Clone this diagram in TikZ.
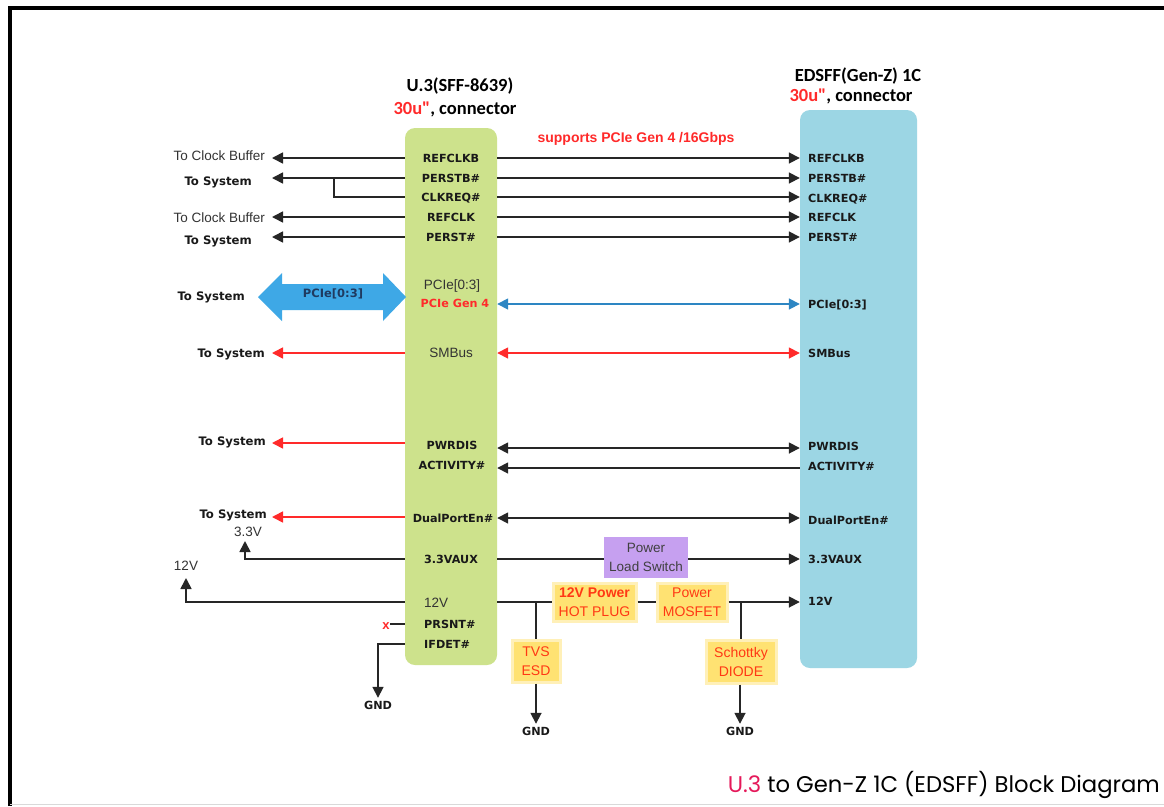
\documentclass[tikz,border=0pt]{standalone}
\usepackage{fontspec}
\setmainfont{Liberation Sans}
\newfontfamily\dvs{DejaVu Sans}
\newfontfamily\cbr{Carlito}
\newfontfamily\pop{Poppins}
\usetikzlibrary{arrows.meta}
\definecolor{gboxc}{HTML}{CDE28C}
\definecolor{bboxc}{HTML}{9CD6E4}
\definecolor{pboxc}{HTML}{C6A0F0}
\definecolor{yboxc}{HTML}{FFE272}
\definecolor{sred}{HTML}{FF2A2A}
\definecolor{ored}{HTML}{FF3814}
\definecolor{sblue}{HTML}{2D86C3}
\definecolor{fatblue}{HTML}{3EA8E6}
\definecolor{tred}{HTML}{E5195A}
\definecolor{navy}{HTML}{1F3A60}
\begin{document}
\begin{tikzpicture}[x=1pt,y=-1pt,
  >={Triangle[length=11pt,width=11pt]},
  sig/.style={line width=1.7pt,draw=black!85},
  redsig/.style={line width=1.7pt,draw=sred,color=sred},
  bluesig/.style={line width=1.7pt,draw=sblue,color=sblue},
  bl/.style={font=\dvs\bfseries\fontsize{11.2}{13}\selectfont,inner sep=0pt,text height=8pt,text depth=0pt,text=black!90},
  rg/.style={font=\fontsize{13.5}{16}\selectfont,inner sep=0pt,text height=9.5pt,text depth=0pt,text=black!80},
  ts/.style={font=\dvs\bfseries\fontsize{11.7}{13}\selectfont,inner sep=0pt,text height=8.5pt,text depth=0pt,text=black!90},
  hdr/.style={font=\cbr\bfseries\fontsize{18.5}{22}\selectfont,inner sep=0pt},
  ybox/.style={fill=yboxc,draw=yboxc!50,line width=3pt,align=center,text=ored,inner sep=0pt,font=\fontsize{14}{19}\selectfont},
  pbox/.style={fill=pboxc,draw=none,align=center,text=black!75,inner sep=0pt,font=\fontsize{13.5}{19}\selectfont,minimum width=84pt,minimum height=41pt},
  conn/.style={rounded corners=10pt,draw=none}
]
\useasboundingbox (0,0) rectangle (1164,806);
\fill[white] (0,0) rectangle (1164,806);
% frame
\draw[line width=4pt] (10,806) -- (10,8) -- (1164,8);
\draw[black!15,line width=1pt] (10,804) -- (1164,804);

% connectors (boxes)
\node[conn,fill=gboxc,minimum width=92pt,minimum height=537pt] (u3) at (451,396.5) {};
\node[conn,fill=bboxc,minimum width=117pt,minimum height=558pt] (ed) at (858.5,389) {};

% headers
\node[hdr] (h1) at (460,86) {U.3(SFF-8639)};
\node[hdr] (h2) at (455,109) {\textcolor{sred}{30u"}, connector};
\node[hdr] (h3) at (858,76) {EDSFF(Gen-Z) 1C};
\node[hdr] (h4) at (851,96) {\textcolor{sred}{30u"}, connector};
\node[font=\bfseries\fontsize{14}{16}\selectfont,text=sred,inner sep=0pt] (sup) at (636,139) {supports PCIe Gen 4 /16Gbps};

% U.3 labels
\node[bl] (g1) at (451,158) {REFCLKB};
\node[bl] (g2) at (451,178) {PERSTB\#};
\node[bl] (g3) at (451,197) {CLKREQ\#};
\node[bl] (g4) at (451,217) {REFCLK};
\node[bl] (g5) at (451,237) {PERST\#};
\node[rg] (g6) at (452,285) {PCIe[0:3]};
\node[bl,text=sred] (g7) at (455,303) {PCIe Gen 4};
\node[rg] (g8) at (451,353) {SMBus};
\node[bl] (g9) at (452,445) {PWRDIS};
\node[bl] (g10) at (452,465) {ACTIVITY\#};
\node[bl] (g11) at (453,518) {DualPortEn\#};
\node[bl] (g12) at (451,559) {3.3VAUX};
\node[rg,anchor=west] (g13) at (424,603) {12V};
\node[bl,anchor=west] (g14) at (424,624) {PRSNT\#};
\node[bl,anchor=west] (g15) at (424,644) {IFDET\#};

% EDSFF labels
\node[bl,anchor=west] (e1) at (808,158) {REFCLKB};
\node[bl,anchor=west] (e2) at (808,178) {PERSTB\#};
\node[bl,anchor=west] (e3) at (808,198) {CLKREQ\#};
\node[bl,anchor=west] (e4) at (808,217) {REFCLK};
\node[bl,anchor=west] (e5) at (808,237) {PERST\#};
\node[bl,anchor=west] (e6) at (808,304) {PCIe[0:3]};
\node[bl,anchor=west] (e7) at (808,353) {SMBus};
\node[bl,anchor=west] (e8) at (808,446) {PWRDIS};
\node[bl,anchor=west] (e9) at (808,466) {ACTIVITY\#};
\node[bl,anchor=west] (e10) at (808,520) {DualPortEn\#};
\node[bl,anchor=west] (e11) at (808,559) {3.3VAUX};
\node[bl,anchor=west] (e12) at (808,601) {12V};

% middle signal rows
\coordinate (m1) at (650,158);
\coordinate (m2) at (650,178);
\coordinate (m3) at (650,197);
\coordinate (m4) at (650,217);
\coordinate (m5) at (650,237);
\coordinate (m6) at (650,304);
\coordinate (m7) at (650,353);
\coordinate (m8) at (650,448);
\coordinate (m9) at (650,468);
\coordinate (m10) at (650,518);
\coordinate (m11) at (650,559);
\coordinate (m12) at (650,602);
\foreach \i in {1,...,5} {\draw[sig,->] (u3.east |- m\i) -- (ed.west |- m\i);}
\draw[bluesig,<->] (u3.east |- m6) -- (ed.west |- m6);
\draw[redsig,<->] (u3.east |- m7) -- (ed.west |- m7);
\draw[sig,<->] (u3.east |- m8) -- (ed.west |- m8);
\draw[sig,<-] (u3.east |- m9) -- (ed.west |- m9);
\draw[sig,<->] (u3.east |- m10) -- (ed.west |- m10);

% left side
\coordinate (a1) at (272,158);
\coordinate (a2) at (272,178);
\coordinate (a4) at (272,217);
\coordinate (a5) at (272,237);
\coordinate (a7) at (272,353);
\coordinate (a9) at (272,443);
\coordinate (a11) at (272,517);
\coordinate (j1) at (334,178);
\node[rg,anchor=east] (t1) at (265,156) {To Clock Buffer};
\node[ts,anchor=east] (t2) at (252,181) {To System};
\node[rg,anchor=east] (t4) at (265,218) {To Clock Buffer};
\node[ts,anchor=east] (t5) at (252,240) {To System};
\node[ts,anchor=east] (t6) at (245,296) {To System};
\node[ts,anchor=east] (t7) at (265,353) {To System};
\node[ts,anchor=east] (t9) at (266,441) {To System};
\node[ts,anchor=east] (t11) at (267,514) {To System};
\draw[sig,->] (u3.west |- a1) -- (a1);
\draw[sig,->] (u3.west |- a2) -- (a2);
\draw[sig] (u3.west |- g3) -| (j1);
\draw[sig,->] (u3.west |- a4) -- (a4);
\draw[sig,->] (u3.west |- a5) -- (a5);
\draw[redsig,->] (u3.west |- a7) -- (a7);
\draw[redsig,->] (u3.west |- a9) -- (a9);
\draw[redsig,->] (u3.west |- a11) -- (a11);

% fat PCIe arrow
\fill[fatblue] (258,297) -- (282,273) -- (282,284) -- (383,284) -- (383,273) -- (406,297)
  -- (383,321) -- (383,310) -- (282,310) -- (282,321) -- cycle;
\node[font=\dvs\bfseries\fontsize{11.5}{13}\selectfont,text=navy,inner sep=0pt] (fat) at (333,294) {PCIe[0:3]};

% 3.3V aux
\node[pbox] (pls) at (646,557.5) {Power\\Load Switch};
\node[rg] (v33) at (248,532) {3.3V};
\coordinate (v33t) at (245,541);
\draw[sig,->] (u3.west |- m11) -| (v33t);
\draw[sig] (u3.east |- m11) -- (pls.west |- m11);
\draw[sig,->] (pls.east |- m11) -- (ed.west |- m11);

% 12V
\node[ybox,minimum width=83pt,minimum height=38pt] (hp) at (594.5,602) {\textbf{12V Power}\\HOT PLUG};
\node[ybox,minimum width=70pt,minimum height=38pt] (mos) at (692,602) {Power\\MOSFET};
\node[ybox,minimum width=48pt,minimum height=42pt] (tvs) at (536,661) {TVS\\ESD};
\node[ybox,minimum width=70pt,minimum height=43pt] (sch) at (741,661.5) {Schottky\\DIODE};
\node[rg] (v12) at (186,566) {12V};
\coordinate (v12t) at (186,578);
\draw[sig,->] (u3.west |- m12) -| (v12t);
\draw[sig] (u3.east |- m12) -- (hp.west |- m12);
\draw[sig] (hp.east |- m12) -- (mos.west |- m12);
\draw[sig,->] (mos.east |- m12) -- (ed.west |- m12);
\draw[sig] (tvs.north) -- (tvs.north |- m12);
\draw[sig] (sch.north) -- (sch.north |- m12);
\node[bl] (gnd2) at (536,731) {GND};
\node[bl] (gnd3) at (740,731) {GND};
\draw[sig,->] (tvs.south) -- ([yshift=3pt]gnd2.north);
\draw[sig,->] (sch.south -| gnd3.north) -- ([yshift=3pt]gnd3.north);

% PRSNT / IFDET
\node[font=\bfseries\fontsize{13}{13}\selectfont,text=sred,inner sep=0pt] (px) at (386,626) {x};
\draw[sig,line width=1.2pt] (u3.west |- g14) -- (px.east |- g14);
\node[bl] (gnd1) at (378,705) {GND};
\draw[sig,->] (u3.west |- g15) -| ([yshift=3pt]gnd1.north);

% title
\node[anchor=base east,inner sep=0pt,font=\pop\fontsize{22.7}{26}\selectfont] (title) at (1160,792)
  {\textcolor{tred}{U.3} to Gen-Z 1C (EDSFF) Block Diagram};
\end{tikzpicture}
\end{document}
